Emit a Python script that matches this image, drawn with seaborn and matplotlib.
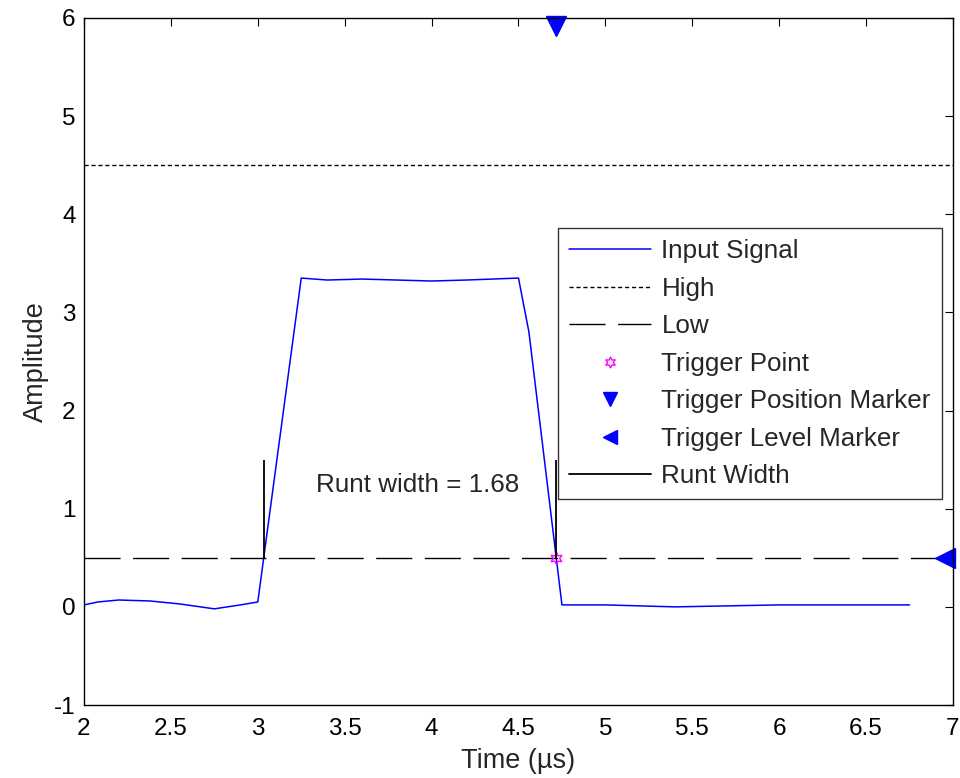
import numpy as np
import pandas as pd
import matplotlib
matplotlib.use("Agg")
import matplotlib.pyplot as plt
from matplotlib.lines import Line2D
import seaborn as sns

# data
time_us = [2.0, 2.08, 2.2, 2.38, 2.55, 2.75, 2.9, 3.0, 3.25, 3.4, 3.6, 3.8, 4.0, 4.2, 4.5,
           4.56, 4.75, 5.0, 5.4, 5.7, 6.0, 6.75]
amplitude = [0.02, 0.05, 0.07, 0.06, 0.03, -0.02, 0.02, 0.05, 3.35, 3.33, 3.34, 3.33, 3.32, 3.33, 3.35,
             2.8, 0.02, 0.02, 0.0, 0.01, 0.02, 0.02]
high_level = 4.5
low_level = 0.5
runt_start = 3.035
runt_end = 4.715
runt_top = 1.5
trigger_pos = (4.715, 5.92)
trigger_lvl = (6.955, 0.5)

sns.set_style("white")
plt.rcParams["font.family"] = ["Liberation Sans", "DejaVu Sans"]
plt.rcParams["axes.unicode_minus"] = False
FS = 17.5      # tick labels
FS_TXT = 18.7  # legend + annotation
FS_LAB = 19.5  # axis labels

df = pd.DataFrame({"t": time_us, "a": amplitude})

fig = plt.figure(figsize=(9.6, 7.78), dpi=100)
ax = fig.add_axes([0.0875, 0.0938, 0.9052, 0.8831])

sns.lineplot(data=df, x="t", y="a", ax=ax, sort=False, color="#0000ff", lw=1.1, label="Input Signal")
ax.axhline(high_level, color="black", lw=1, dashes=(3, 2), label="High")
ax.axhline(low_level, color="black", lw=1, dashes=(26, 9), label="Low")
ax.plot([runt_end], [low_level], ls="none", marker=(6, 1, 0), ms=9, mfc="none", mec="magenta",
        mew=1, label="Trigger Point")
ax.plot([trigger_pos[0]], [trigger_pos[1]], ls="none", marker="v", ms=14, color="#0000ff",
        clip_on=False, label="Trigger Position Marker")
ax.plot([trigger_lvl[0]], [trigger_lvl[1]], ls="none", marker="<", ms=14, color="#0000ff",
        clip_on=False, label="Trigger Level Marker")
ax.vlines([runt_start, runt_end], low_level, runt_top, color="black", lw=1.3, label="Runt Width")
ax.text(3.335, 1.24, "Runt width = %.2f" % (runt_end - runt_start), fontsize=FS_TXT, va="center")

ax.set_xlim(2, 7)
ax.set_ylim(-1, 6)
ax.set_xticks(np.arange(2, 7.01, 0.5))
ax.set_xticklabels(["2", "2.5", "3", "3.5", "4", "4.5", "5", "5.5", "6", "6.5", "7"])
ax.set_yticks(range(-1, 7))
ax.tick_params(direction="in", top=True, right=True, length=6, labelsize=FS, colors="black")
ax.tick_params(axis="x", pad=9)
ax.tick_params(axis="y", pad=6)
for s in ax.spines.values():
    s.set_color("black")
    s.set_linewidth(1)
ax.set_xlabel("Time (\u00b5s)", fontsize=FS_LAB, labelpad=6)
ax.set_ylabel("Amplitude", fontsize=FS_LAB, labelpad=4)

handles, labels = ax.get_legend_handles_labels()
# swap vlines collection for a plain line handle
handles[-1] = Line2D([], [], color="black", lw=1.3)
leg = ax.legend(handles, labels, loc="upper right", bbox_to_anchor=(0.987, 0.694),
                fontsize=FS_TXT, frameon=True, fancybox=False, edgecolor="black",
                handlelength=3.15, handletextpad=0.42, labelspacing=0.52, borderpad=0.42,
                borderaxespad=0)
leg.get_frame().set_linewidth(1)
for h in leg.legend_handles:
    if isinstance(h, Line2D) and h.get_marker() not in (None, "None", ""):
        h.set_markersize(10)
leg.legend_handles[3].set_markersize(8)

fig.savefig("out.png", dpi=100)
